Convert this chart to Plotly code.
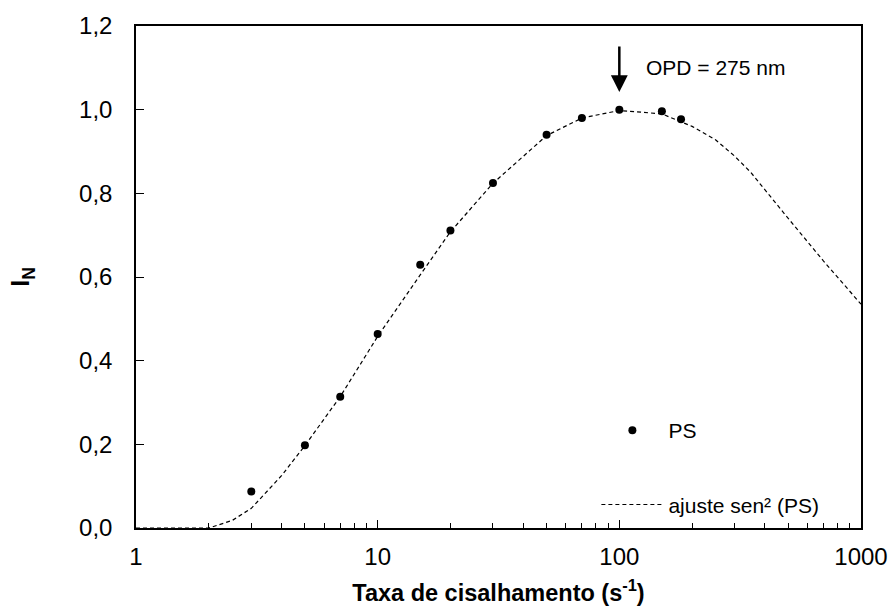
import plotly.graph_objects as go

# Measured normalized intensity vs shear rate (PS)
shear_rate = [3, 5, 7, 10, 15, 20, 30, 50, 70, 100, 150, 180]
intensity = [0.087, 0.198, 0.314, 0.464, 0.629, 0.711, 0.825, 0.940, 0.980, 1.000, 0.996, 0.977]

# sen² fit curve sampled along the shear-rate axis
fit_rate = [1, 1.5, 2, 2.5, 3, 4, 5, 7, 10, 15, 20, 30, 50, 70, 100, 150, 200, 250, 300, 350, 400,
            500, 700, 1000]
fit_int = [0, 0, 0, 0.018, 0.047, 0.125, 0.197, 0.314, 0.458, 0.605, 0.708, 0.824, 0.938, 0.980, 0.998,
           0.990, 0.960, 0.928, 0.889, 0.850, 0.808, 0.740, 0.638, 0.535]

y_ticks = [0, 0.2, 0.4, 0.6, 0.8, 1.0, 1.2]
x_ticks = [1, 10, 100, 1000]
x_minor = [m * d for d in (1, 10, 100) for m in range(2, 10)]

FONT = "Liberation Sans, Arial, sans-serif"

fig = go.Figure()
fig.add_trace(go.Scatter(
    x=shear_rate, y=intensity, mode="markers", name="PS",
    marker=dict(color="black", size=8), legendgroup="a",
))
fig.add_trace(go.Scatter(
    x=fit_rate, y=fit_int, mode="lines", name="ajuste sen² (PS)",
    line=dict(color="black", width=1.2, dash="4px,3px"), legendgroup="b",
))

# Arrow marking the peak and its label
fig.add_annotation(
    x=2, y=1.042, xref="x", yref="y", ax=0, ay=-47, axref="pixel", ayref="pixel",
    showarrow=True, arrowhead=2, arrowsize=1.35, arrowwidth=2.5, arrowcolor="black", text="",
)
fig.add_annotation(
    x=2.1, y=1.102, xref="x", yref="y", text="OPD = 275 nm", showarrow=False,
    xanchor="left", yanchor="middle", font=dict(family=FONT, size=21, color="black"),
)

fig.update_layout(
    width=893, height=612,
    margin=dict(l=136, r=32, t=26, b=84),
    paper_bgcolor="white", plot_bgcolor="white",
    separators=",.",
    font=dict(family=FONT, color="black"),
    showlegend=True,
    legend=dict(
        x=0.635, y=0.235, xanchor="left", yanchor="top",
        traceorder="grouped", tracegroupgap=44, itemwidth=62,
        font=dict(family=FONT, size=21, color="black"),
        bgcolor="rgba(0,0,0,0)",
    ),
    xaxis=dict(
        type="log", range=[0, 3], automargin=False,
        tickvals=x_ticks, ticktext=[str(v) for v in x_ticks],
        ticks="inside", ticklen=8, tickcolor="black", tickwidth=1,
        minor=dict(tickvals=x_minor, ticks="inside", ticklen=5, tickcolor="black", tickwidth=1),
        showline=True, linecolor="black", linewidth=1.5, mirror=True,
        showgrid=False, zeroline=False,
        tickfont=dict(family=FONT, size=24, color="black"),
        ticklabelstandoff=6,
        title=dict(text="<b>Taxa de cisalhamento (s<sup>-1</sup>)</b>",
                   font=dict(family=FONT, size=23.5, color="black"), standoff=16),
    ),
    yaxis=dict(
        range=[0, 1.2], tickvals=y_ticks, tickformat=".1f", automargin=False,
        ticks="inside", ticklen=8, tickcolor="black", tickwidth=1,
        showline=True, linecolor="black", linewidth=1.5, mirror=True,
        showgrid=False, zeroline=False,
        tickfont=dict(family=FONT, size=24, color="black"),
        ticklabelstandoff=17,
        title=dict(text="<b>I<sub>N</sub></b>",
                   font=dict(family=FONT, size=25, color="black"), standoff=42),
    ),
)

fig.write_html("out.html")
